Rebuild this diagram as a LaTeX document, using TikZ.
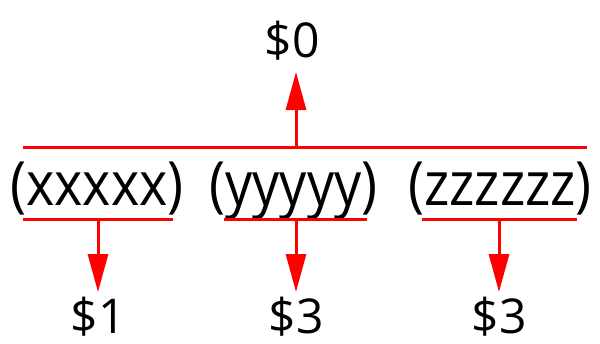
\documentclass[tikz,border=0pt]{standalone}
\usepackage{fontspec}
\setmainfont{Open Sans}
\usepackage{tikz}
\usetikzlibrary{arrows.meta,positioning}

\newcommand{\tallgrp}[1]{\scalebox{1}[1.13]{#1}}

\begin{document}
\begin{tikzpicture}[
  x=1pt, y=-1pt,
  bar/.style={draw=red, line width=3pt},
  arr/.style={draw=red, line width=3pt, -{Triangle[width=20pt,length=38pt]}},
  grp/.style={font=\fontsize{54}{60}\selectfont, inner sep=0pt, anchor=base},
  val/.style={font=\fontsize{48}{54}\selectfont, inner sep=0pt, anchor=base}
]
  \useasboundingbox (0,0) rectangle (600,343);

  % brace groups
  \node[grp] (gx) at (97,205) {\tallgrp{(xxxxx)}};
  \node[grp] (gy) at (293.5,205) {\tallgrp{(yyyyy)}};
  \node[grp] (gz) at (500,205) {\tallgrp{(zzzzzz)}};

  % values
  \node[val] (v0) at (292,57) {\$0};
  \node[val] (v1) at (98,333) {\$1};
  \node[val] (v2) at (296,333) {\$3};
  \node[val] (v3) at (499,333) {\$3};

  % bar over all groups
  \coordinate (topl) at (23,147);
  \coordinate (topr) at (587,147);
  \coordinate (topm) at (296,147);
  \coordinate (tip0) at (296,72);
  \draw[bar] (topl) -- (topr);
  \draw[arr] (topm) -- (tip0);

  % bars under each group
  \foreach \a/\b/\m/\v in {23/173/98/v1, 224/367/296/v2, 422/577/499/v3} {
    \coordinate (ul\v) at (\a,219);
    \coordinate (ur\v) at (\b,219);
    \coordinate (um\v) at (\m,219);
    \coordinate (tip\v) at (\m,292);
    \draw[bar] (ul\v) -- (ur\v);
    \draw[arr] (um\v) -- (tip\v);
  }
\end{tikzpicture}
\end{document}
